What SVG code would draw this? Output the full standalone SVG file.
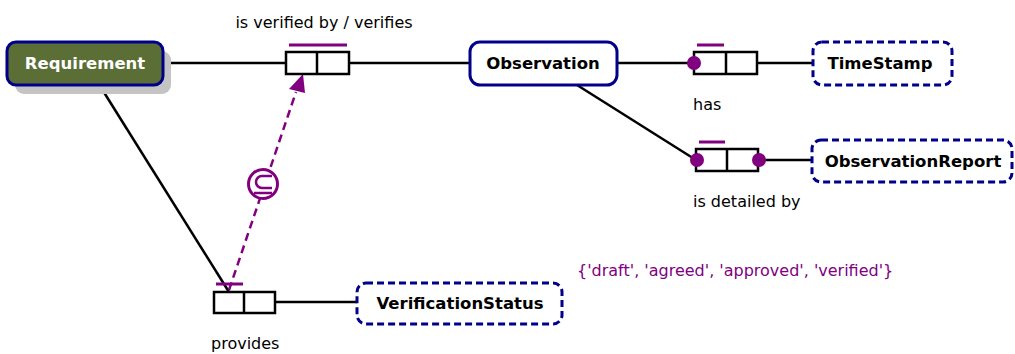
<svg xmlns="http://www.w3.org/2000/svg" width="1015" height="354" viewBox="0 0 1015 354">
<defs>
<style>
.ent{fill:#fff;stroke:#00008b;stroke-width:3}
.val{fill:#fff;stroke:#00008b;stroke-width:3;stroke-dasharray:7 4}
.lbl{font-family:"DejaVu Sans",Verdana,sans-serif;font-size:16.5px;font-weight:bold;fill:#000;text-anchor:middle}
.txt{font-family:"DejaVu Sans",Verdana,sans-serif;font-size:16px;fill:#000}
.role{fill:#fff;stroke:#000;stroke-width:2.5}
.uc{stroke:#800080;stroke-width:3}
.dot{fill:#800080}
.conn{stroke:#000;stroke-width:2.5;fill:none}
</style>
</defs>
<g id="connectors">
<line class="conn" x1="163" y1="63" x2="286" y2="63"/>
<line class="conn" x1="349" y1="63" x2="470" y2="63"/>
<line class="conn" x1="617" y1="63" x2="694" y2="63"/>
<line class="conn" x1="757" y1="63" x2="813" y2="63"/>
<line class="conn" x1="577" y1="85" x2="696" y2="160"/>
<line class="conn" x1="758" y1="160" x2="812" y2="160"/>
<line class="conn" x1="100" y1="86" x2="229" y2="292"/>
<line class="conn" x1="275" y1="302" x2="357" y2="302"/>
<line x1="229" y1="290" x2="296" y2="92" stroke="#800080" stroke-width="2.5" stroke-dasharray="8 5"/>
<path d="M303,74 L305,93 L289,89 z" fill="#800080"/>
</g>
<g id="subset">
<circle cx="263" cy="184" r="14.5" fill="#fff" stroke="#800080" stroke-width="3"/>
<path d="M272,176 L262,176 A6,6 0 0 0 262,188 L272,188 M254,193 L272,193" fill="none" stroke="#800080" stroke-width="2.5"/>
</g>
<g id="Requirement">
<rect x="15" y="51" width="156" height="43" rx="9" fill="#c4c4c4"/>
<rect x="7" y="42" width="156" height="43" rx="9" fill="#5b6e35" stroke="#00008b" stroke-width="3"/>
<text class="lbl" x="85" y="69" style="fill:#fff">Requirement</text>
</g>
<g id="fact-verifies">
<line class="uc" x1="289" y1="45" x2="347" y2="45"/>
<rect class="role" x="286" y="52" width="63" height="22"/>
<line class="conn" x1="317" y1="52" x2="317" y2="74"/>
<text class="txt" x="324" y="28" text-anchor="middle">is verified by / verifies</text>
</g>
<g id="Observation">
<rect class="ent" x="470" y="42" width="147" height="43" rx="10"/>
<text class="lbl" x="543" y="69">Observation</text>
</g>
<g id="fact-has">
<line class="uc" x1="697" y1="45" x2="724" y2="45"/>
<rect class="role" x="694" y="52" width="63" height="22"/>
<line class="conn" x1="726" y1="52" x2="726" y2="74"/>
<circle class="dot" cx="694" cy="63" r="7"/>
<text class="txt" x="693" y="110">has</text>
</g>
<g id="TimeStamp">
<rect class="val" x="813" y="42" width="139" height="43" rx="9"/>
<text class="lbl" x="880" y="69">TimeStamp</text>
</g>
<g id="fact-detailed">
<line class="uc" x1="699" y1="142" x2="725" y2="142"/>
<rect class="role" x="696" y="149" width="62" height="22"/>
<line class="conn" x1="727" y1="149" x2="727" y2="171"/>
<circle class="dot" cx="697" cy="160" r="7"/>
<circle class="dot" cx="759" cy="160" r="7"/>
<text class="txt" x="693" y="207">is detailed by</text>
</g>
<g id="ObservationReport">
<rect class="val" x="812" y="140" width="200" height="42" rx="9"/>
<text class="lbl" x="913" y="167">ObservationReport</text>
</g>
<g id="fact-provides">
<line class="uc" x1="216" y1="284" x2="243" y2="284"/>
<rect class="role" x="214" y="292" width="61" height="21"/>
<line class="conn" x1="244" y1="292" x2="244" y2="313"/>
<text class="txt" x="211" y="349">provides</text>
</g>
<g id="VerificationStatus">
<rect class="val" x="357" y="283" width="205" height="41" rx="9"/>
<text class="lbl" x="460" y="309">VerificationStatus</text>
<text class="txt" x="577" y="276" style="fill:#800080">{'draft', 'agreed', 'approved', 'verified'}</text>
</g>
</svg>
